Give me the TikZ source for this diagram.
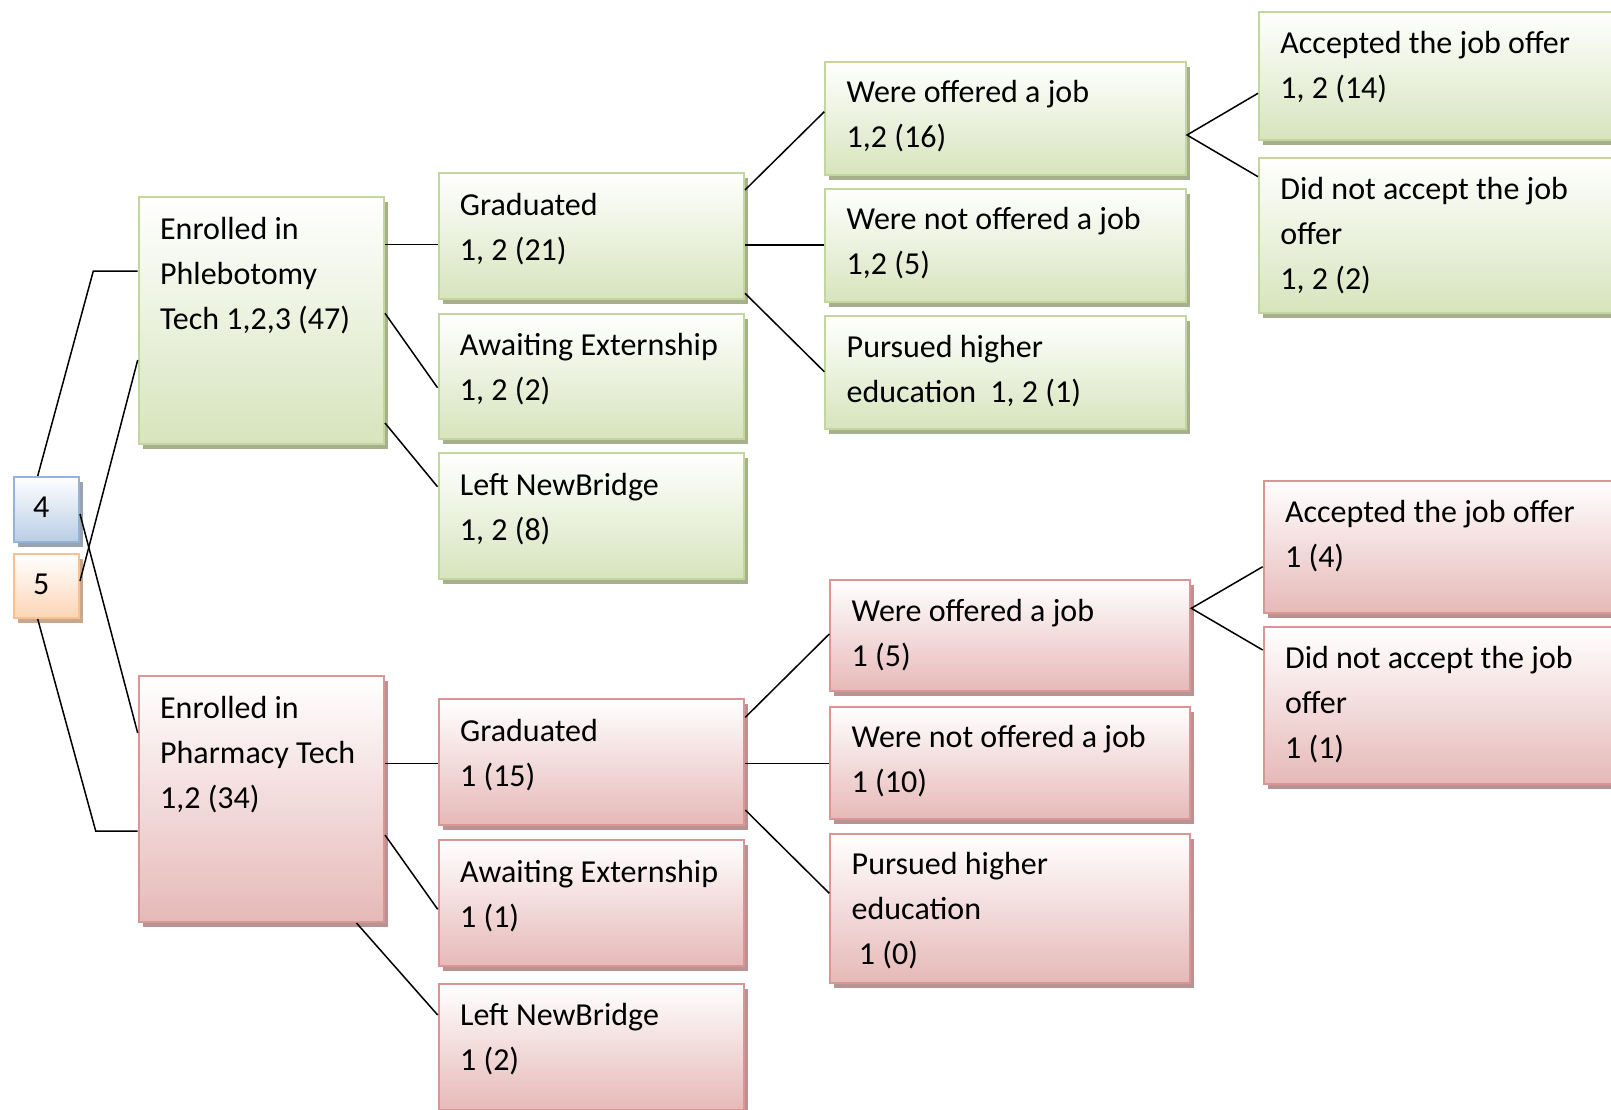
\documentclass[tikz,border=0pt]{standalone}
\usepackage{fontspec}
\setmainfont{Carlito}
\usetikzlibrary{shadows}
\definecolor{gborder}{HTML}{C3D69B}
\definecolor{gfill}{HTML}{D7E4BD}
\definecolor{gshadow}{HTML}{A6B08E}
\definecolor{pborder}{HTML}{D99694}
\definecolor{pfill}{HTML}{E6B9B8}
\definecolor{pshadow}{HTML}{B79393}
\definecolor{bborder}{HTML}{95B3D7}
\definecolor{bfill}{HTML}{B9CDE5}
\definecolor{bshadow}{HTML}{98A3B2}
\definecolor{oborder}{HTML}{FAC08F}
\definecolor{ofill}{HTML}{FCD5B5}
\definecolor{oshadow}{HTML}{C9A78D}

\tikzset{
  box/.style={rectangle,anchor=north west,inner sep=0pt,line width=1pt},
  gbox/.style={box,draw=gborder,top color=white,bottom color=gfill,
    drop shadow={shadow xshift=2pt,shadow yshift=-2.5pt,fill=gshadow,opacity=1}},
  pbox/.style={box,draw=pborder,top color=white,bottom color=pfill,
    drop shadow={shadow xshift=2pt,shadow yshift=-2.5pt,fill=pshadow,opacity=1}},
  bbox/.style={box,draw=bborder,top color=white,bottom color=bfill,
    drop shadow={shadow xshift=2pt,shadow yshift=-2.5pt,fill=bshadow,opacity=1}},
  obox/.style={box,draw=oborder,top color=white,bottom color=ofill,
    drop shadow={shadow xshift=2pt,shadow yshift=-2.5pt,fill=oshadow,opacity=1}},
  txt/.style={anchor=north west,align=left,inner sep=0pt,
    font=\fontsize{16}{22.5}\selectfont,execute at begin node=\strut},
  link/.style={line width=0.75pt,black}
}

\begin{document}
\begin{tikzpicture}[x=0.5pt,y=-0.5pt]
  \clip (0,0) rectangle (1611,1109);

  % start boxes
  \node[bbox,minimum width=32.65pt,minimum height=32.5pt] at (12.7,476) (n4) {};
  \node[obox,minimum width=32.65pt,minimum height=32pt] at (12.7,553) (n5) {};
  \node[anchor=west,inner sep=0pt,font=\fontsize{16}{22.5}\selectfont]
    at ([xshift=10pt,yshift=1pt]n4.west) (n4t) {4};
  \node[anchor=west,inner sep=0pt,font=\fontsize{16}{22.5}\selectfont]
    at ([xshift=10pt,yshift=1pt]n5.west) (n5t) {5};

  % Phlebotomy branch
  \node[gbox,minimum width=122.65pt,minimum height=123.5pt] at (137.7,196) (phleb) {};
  \node[txt] at ([shift={(11pt,-10.5pt)}]phleb.north west) (phlebt)
    {Enrolled in\\Phlebotomy\\Tech 1,2,3 (47)};

  \node[gbox,minimum width=152.75pt,minimum height=62.7pt] at (437.5,172.3) (ggrad) {};
  \node[txt] at ([shift={(11pt,-10.25pt)}]ggrad.north west) (ggradt) {Graduated\\1, 2 (21)};
  \node[gbox,minimum width=152.75pt,minimum height=62.5pt] at (437.5,312.7) (gawait) {};
  \node[txt] at ([shift={(11pt,-10.25pt)}]gawait.north west) (gawaitt) {Awaiting Externship\\1, 2 (2)};
  \node[gbox,minimum width=152.75pt,minimum height=63pt] at (437.5,452.3) (gleft) {};
  \node[txt] at ([shift={(11pt,-10.25pt)}]gleft.north west) (gleftt) {Left NewBridge\\1, 2 (8)};

  \node[gbox,minimum width=180.35pt,minimum height=56.65pt] at (824.3,60.7) (goff) {};
  \node[txt] at ([shift={(11pt,-9.75pt)}]goff.north west) (gofft) {Were offered a job\\1,2 (16)};
  \node[gbox,minimum width=180.35pt,minimum height=56.5pt] at (824.3,187.7) (gnot) {};
  \node[txt] at ([shift={(11pt,-9.75pt)}]gnot.north west) (gnott) {Were not offered a job\\1,2 (5)};
  \node[gbox,minimum width=180.35pt,minimum height=56.35pt] at (824.3,315) (gpur) {};
  \node[txt] at ([shift={(11pt,-9.75pt)}]gpur.north west) (gpurt) {Pursued higher\\education\ \ 1, 2 (1)};

  \node[gbox,minimum width=191pt,minimum height=64pt] at (1258,11) (gacc) {};
  \node[txt] at ([shift={(11pt,-10pt)}]gacc.north west) (gacct) {Accepted the job offer\\1, 2 (14)};
  \node[gbox,minimum width=191pt,minimum height=77.5pt] at (1258,156.7) (gdid) {};
  \node[txt] at ([shift={(11pt,-10pt)}]gdid.north west) (gdidt) {Did not accept the job\\offer\\1, 2 (2)};

  % Pharmacy branch
  \node[pbox,minimum width=122.65pt,minimum height=123pt] at (137.7,675) (pharm) {};
  \node[txt] at ([shift={(11pt,-10.5pt)}]pharm.north west) (pharmt)
    {Enrolled in\\Pharmacy Tech\\1,2 (34)};

  \node[pbox,minimum width=152.8pt,minimum height=62.85pt] at (437.7,698.3) (pgrad) {};
  \node[txt] at ([shift={(11pt,-10.25pt)}]pgrad.north west) (pgradt) {Graduated\\1 (15)};
  \node[pbox,minimum width=152.8pt,minimum height=62.85pt] at (437.7,839.3) (pawait) {};
  \node[txt] at ([shift={(11pt,-10.25pt)}]pawait.north west) (pawaitt) {Awaiting Externship\\1 (1)};
  \node[pbox,minimum width=152.8pt,minimum height=63pt] at (437.7,982.7) (pleft) {};
  \node[txt] at ([shift={(11pt,-10.25pt)}]pleft.north west) (pleftt) {Left NewBridge\\1 (2)};

  \node[pbox,minimum width=180pt,minimum height=55.5pt] at (829.3,579) (poff) {};
  \node[txt] at ([shift={(11pt,-9.75pt)}]poff.north west) (pofft) {Were offered a job\\1 (5)};
  \node[pbox,minimum width=180pt,minimum height=56.3pt] at (829.3,705.7) (pnot) {};
  \node[txt] at ([shift={(11pt,-9.75pt)}]pnot.north west) (pnott) {Were not offered a job\\1 (10)};
  \node[pbox,minimum width=180pt,minimum height=74.5pt] at (829.3,832.7) (ppur) {};
  \node[txt] at ([shift={(11pt,-9.75pt)}]ppur.north west) (ppurt) {Pursued higher\\education\\\ 1 (0)};

  \node[pbox,minimum width=188.65pt,minimum height=65.85pt] at (1262.7,480) (pacc) {};
  \node[txt] at ([shift={(11pt,-10pt)}]pacc.north west) (pacct) {Accepted the job offer\\1 (4)};
  \node[pbox,minimum width=188.65pt,minimum height=78.65pt] at (1262.7,626) (pdid) {};
  \node[txt] at ([shift={(11pt,-10pt)}]pdid.north west) (pdidt) {Did not accept the job\\offer\\1 (1)};

  % connectors
  \coordinate (k1) at (93.3,271);
  \coordinate (k2) at (95.7,831);
  \draw[link] ([xshift=12.5pt]n4.north west) -- (k1) -- (k1 -| phleb.west);
  \draw[link] ([yshift=2.5pt]n5.east) -- ([yshift=-82pt]phleb.north west);
  \draw[link] ([yshift=-2.25pt]n4.east) -- ([yshift=-29pt]pharm.north west);
  \draw[link] ([xshift=12.5pt]n5.south west) -- (k2) -- (k2 -| pharm.west);

  \draw[link] ([yshift=-24.25pt]phleb.north east) -- ([yshift=-24.25pt]phleb.north east -| ggrad.west);
  \draw[link] ([yshift=-58.65pt]phleb.north east) -- ([yshift=-37.5pt]gawait.north west);
  \draw[link] ([yshift=-113.5pt]phleb.north east) -- ([yshift=-17.2pt]gleft.north west);
  \draw[link] ([yshift=-8.85pt]ggrad.north east) -- ([yshift=-25.5pt]goff.north west);
  \draw[link] ([yshift=-36.35pt]ggrad.north east) -- ([yshift=-36.35pt]ggrad.north east -| gnot.west);
  \draw[link] ([yshift=-60.5pt]ggrad.north east) -- ([yshift=-28.35pt]gpur.north west);
  \draw[link] ([yshift=-41.15pt]gacc.north west) -- ([yshift=-37.15pt]goff.north east)
    -- ([yshift=-10pt]gdid.north west);

  \draw[link] ([yshift=-44.15pt]pharm.north east) -- ([yshift=-44.15pt]pharm.north east -| pgrad.west);
  \draw[link] ([yshift=-80pt]pharm.north east) -- ([yshift=-35pt]pawait.north west);
  \draw[link] ([xshift=109.4pt]pharm.south west) -- ([yshift=-16.15pt]pleft.north west);
  \draw[link] ([yshift=-9.5pt]pgrad.north east) -- ([yshift=-27.5pt]poff.north west);
  \draw[link] ([yshift=-32.5pt]pgrad.north east) -- ([yshift=-32.5pt]pgrad.north east -| pnot.west);
  \draw[link] ([yshift=-55.85pt]pgrad.north east) -- ([yshift=-30.3pt]ppur.north west);
  \draw[link] ([yshift=-43.35pt]pacc.north west) -- ([yshift=-14.65pt]poff.north east)
    -- ([yshift=-12pt]pdid.north west);
\end{tikzpicture}
\end{document}
